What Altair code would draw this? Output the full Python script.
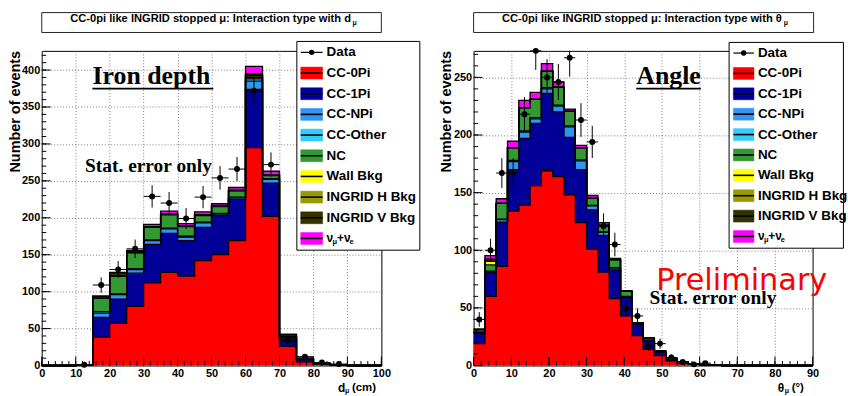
import math
import altair as alt
import numpy as np
import pandas as pd

# ---------------------------------------------------------------- data
COMPONENTS = ["CC-0Pi", "CC-1Pi", "CC-NPi", "CC-Other", "NC",
              "Wall Bkg", "INGRID H Bkg", "INGRID V Bkg", "nu_mu+nu_e"]
COLORS = ["#ff0000", "#000099", "#2f96f5", "#33ccff", "#339933",
          "#ffff00", "#999900", "#333300", "#ff00ff"]
LEGEND_LABELS = ["CC-0Pi", "CC-1Pi", "CC-NPi", "CC-Other", "NC",
                 "Wall Bkg", "INGRID H Bkg", "INGRID V Bkg"]

# ---- left: iron depth d_mu (cm), 5 cm bins
D_BIN_LOW = [0, 5, 10, 15, 20, 25, 30, 35, 40, 45, 50, 55, 60, 65, 70, 75, 80, 85, 90, 95]
D_BIN_W = 5
D_CC0PI = [0, 0, 0.5, 38.5, 57, 80, 112, 126, 121, 142, 150, 169, 295, 202, 26, 5, 1.5, 0.5, 0, 0]
D_CC1PI = [0, 0, 0.3, 26.5, 33, 45, 52, 53, 48, 45, 53, 56, 79, 45, 11, 3, 1, 0.5, 0, 0]
D_CCNPI = [0, 0, 0, 6, 6, 5, 5, 6, 5, 6, 2, 2, 11, 5, 1, 0.3, 0, 0, 0, 0]
D_CCOTHER = [0, 0, 0, 2, 1, 1, 1, 1, 1, 1, 1, 1, 3, 1, 0, 0, 0, 0, 0, 0]
D_NC = [0, 0, 0, 18, 24, 22, 17, 18, 13, 9, 9, 8, 2, 4, 0.5, 0.3, 0, 0, 0, 0]
D_WALL = [0, 0, 0, 0, 0, 0, 1, 1, 1, 1, 1, 1, 2, 1, 0, 0, 0, 0, 0, 0]
D_INGH = [0, 0, 0, 0, 0, 0, 0, 0, 0, 0, 0, 0, 1, 0, 0, 0, 0, 0, 0, 0]
D_INGV = [0, 0, 0.2, 3, 4, 2, 0, 0, 0, 0, 0, 0, 2, 0, 3.5, 1.5, 0.5, 0, 0, 0]
D_NU = [0, 0, 0, 0, 1, 1, 3, 4, 3, 4, 3, 4, 10, 5, 0, 0, 0, 0, 0, 0]
D_DATA = [0, 0, 1, 109, 130, 158, 229, 220, 199, 228, 254, 266, 372, 272, 34, 12, 4, 2, 0, 0]

# ---- right: angle theta_mu (deg), 3 deg bins
T_BIN_LOW = [0, 3, 6, 9, 12, 15, 18, 21, 24, 27, 30, 33, 36, 39, 42,
             45, 48, 51, 54, 57, 60, 63, 66, 69, 72, 75, 78, 81, 84, 87]
T_BIN_W = 3
T_CC0PI = [19, 60, 86, 134, 139, 156, 169, 164, 148, 124, 101, 81, 58, 43, 26,
           14, 8.5, 4, 2, 1, 0.5, 0.3, 0, 0, 0, 0, 0, 0, 0, 0]
T_CC1PI = [9.5, 20.7, 38.5, 36, 58, 54, 67, 56, 50, 46, 34, 32, 25, 16, 10,
           7, 3, 2, 1, 0.5, 0.3, 0.2, 0, 0, 0, 0, 0, 0, 0, 0]
T_CCNPI = [0, 1, 2, 7, 5.6, 4, 4, 5, 9, 7.5, 3.5, 2.5, 1.5, 0.5, 0,
           0, 0, 0, 0, 0, 0, 0, 0, 0, 0, 0, 0, 0, 0, 0]
T_CCOTHER = [0, 0, 0.5, 1, 1, 1, 1, 1, 1, 1, 0.5, 0.5, 0.5, 0.5, 0,
             0, 0, 0, 0, 0, 0, 0, 0, 0, 0, 0, 0, 0, 0, 0]
T_NC = [0, 5.7, 13.7, 11, 20.2, 16, 14.5, 15.5, 12.5, 10.5, 6, 5.5, 7, 4.5, 1,
        0, 0, 0, 0, 0, 0, 0, 0, 0, 0, 0, 0, 0, 0, 0]
T_WALL = [0, 3, 0, 0, 0, 0, 0, 0, 0, 0, 0, 0, 0, 0, 0,
          0, 0, 0, 0, 0, 0, 0, 0, 0, 0, 0, 0, 0, 0, 0]
T_INGH = [0, 1, 0, 0, 0, 0, 0, 0, 0, 0, 0, 0, 0, 0, 0,
          0, 0, 0, 0, 0, 0, 0, 0, 0, 0, 0, 0, 0, 0, 0]
T_INGV = [3, 1, 0, 0, 0, 0, 0, 0, 0, 0, 0, 0, 0, 0, 0,
          3, 1.5, 0.5, 0, 0, 0, 0, 0, 0, 0, 0, 0, 0, 0, 0]
T_NU = [0, 3, 4, 5.6, 6.3, 6, 6.5, 4.5, 2, 2, 2.5, 2.5, 1, 0.5, 0,
        0, 0, 0, 0, 0, 0, 0, 0, 0, 0, 0, 0, 0, 0, 0]
T_DATA = [40, 100, 167, 167, 218, 273, 250, 246, 267, 213, 194, 121, 105, 49, 43,
          17, 19, 7, 3, 1, 2, 0, 0, 0, 0, 0, 0, 0, 0, 0]

D_XTICKS = [0, 10, 20, 30, 40, 50, 60, 70, 80, 90, 100]
D_YTICKS = [0, 50, 100, 150, 200, 250, 300, 350, 400]
T_XTICKS = [0, 10, 20, 30, 40, 50, 60, 70, 80, 90]
T_YTICKS = [0, 50, 100, 150, 200, 250]

# ---------------------------------------------------------------- style
SANS = "Liberation Sans, Arial, sans-serif"
SERIF = "Liberation Serif, Times New Roman, serif"
W1, W2, H = 341.6, 341.0, 316.5
BASE = pd.DataFrame({"z": [0]})
LEG_FS = 13.5


def txt(s, x, y, size, font=SANS, weight="bold", align="left",
        baseline="middle", color="black", angle=None):
    kw = dict(text=s, align=align, baseline=baseline, font=font,
              fontSize=size, fontWeight=weight, color=color)
    if angle is not None:
        kw["angle"] = angle
    return alt.Chart(BASE).mark_text(**kw).encode(x=alt.value(x), y=alt.value(y))


def box(x0, x1, y0, y1, **kw):
    return alt.Chart(BASE).mark_rect(**kw).encode(
        x=alt.value(x0), x2=alt.value(x1), y=alt.value(y0), y2=alt.value(y1))


def hline(x0, x1, y, color="black", w=1.0):
    return alt.Chart(BASE).mark_rule(color=color, strokeWidth=w).encode(
        x=alt.value(x0), x2=alt.value(x1), y=alt.value(y))


def legend_layers(bx0, bx1, by0, by1, sx0, sx1, lx, row0, drow):
    L = [box(bx0, bx1, by0, by1, fill="white", stroke="black", strokeWidth=1)]
    y = row0
    L.append(hline(sx0, sx1, y, w=1.2))
    L.append(alt.Chart(BASE).mark_circle(size=30, color="black", opacity=1).encode(
        x=alt.value((sx0 + sx1) / 2), y=alt.value(y)))
    L.append(txt("Data", lx, y, LEG_FS))
    for i, (lab, col) in enumerate(zip(LEGEND_LABELS + ["nu"], COLORS)):
        y = row0 + drow * (i + 1)
        L.append(box(sx0, sx1, y - 6, y + 6, fill=col, stroke=col, strokeWidth=0.5))
        L.append(hline(sx0, sx1, y, w=1.6))
        if lab != "nu":
            L.append(txt(lab, lx, y, LEG_FS))
    y = row0 + drow * 9
    L.append(txt("ν", lx, y, 12))
    L.append(txt("μ", lx + 6, y + 4, 7.5))
    L.append(txt("+ν", lx + 10.5, y, 12))
    L.append(txt("e", lx + 23, y + 4, 7.5))
    return L


def panel(bin_low, bw, comps, data, W, xmax, ymax, xticks, yticks,
          xminor, yminor, deco):
    edges = list(bin_low) + [bin_low[-1] + bw]
    nb = len(bin_low)
    rows = []
    for k, name in enumerate(COMPONENTS):
        for i, e in enumerate(edges):
            j = min(i, nb - 1)
            lo = sum(comps[m][j] for m in range(k))
            rows.append(dict(comp=name, edge=e, lo=lo, hi=lo + comps[k][j]))
    stack = pd.DataFrame(rows)

    pts = pd.DataFrame([
        dict(xc=b + bw / 2, xlo=b, xhi=b + bw, val=v,
             elo=v - math.sqrt(v), ehi=v + math.sqrt(v))
        for b, v in zip(bin_low, data) if v > 0])

    XS = alt.Scale(domain=[0, xmax], nice=False, zero=False)
    YS = alt.Scale(domain=[0, ymax], nice=False, zero=False)
    AX = alt.Axis(values=xticks, grid=True, ticks=False, tickSize=0,
                  domain=False, labelPadding=2, labelFlush=False)
    AY = alt.Axis(values=yticks, grid=True, ticks=False, tickSize=0,
                  domain=False, labelPadding=2)

    def X(f):
        return alt.X(f, scale=XS, axis=AX, title=None)

    def Y(f, **kw):
        return alt.Y(f, scale=YS, axis=AY, title=None, **kw)

    area = alt.Chart(stack).mark_area(interpolate="step-after").encode(
        x=X("edge:Q"), y=Y("lo:Q", stack=None), y2="hi:Q",
        color=alt.Color("comp:N", scale=alt.Scale(domain=COMPONENTS, range=COLORS),
                        legend=None),
    )
    outline = alt.Chart(stack).mark_line(interpolate="step-after", color="black",
                                         strokeWidth=1.3).encode(
        x=X("edge:Q"), y=Y("hi:Q"), detail="comp:N",
    )

    def ticks_x(vals, ln):
        return alt.Chart(pd.DataFrame({"v": vals})).mark_rule(color="black", strokeWidth=1).encode(
            x=X("v:Q"), y=alt.value(H), y2=alt.value(H - ln))

    def ticks_y(vals, ln):
        return alt.Chart(pd.DataFrame({"v": vals})).mark_rule(color="black", strokeWidth=1).encode(
            y=Y("v:Q"), x=alt.value(0), x2=alt.value(ln))

    ex = alt.Chart(pts).mark_rule(color="black", strokeWidth=1).encode(
        x=X("xlo:Q"), x2="xhi:Q", y=Y("val:Q"))
    ey = alt.Chart(pts).mark_rule(color="black", strokeWidth=1, clip=True).encode(
        x=X("xc:Q"), y=Y("elo:Q"), y2="ehi:Q")
    dots = alt.Chart(pts).mark_circle(size=36, color="black", opacity=1).encode(
        x=X("xc:Q"), y=Y("val:Q"))

    layers = [area, outline,
              ticks_x(xticks, 9), ticks_x(xminor, 4.5),
              ticks_y(yticks, 9), ticks_y(yminor, 4.5),
              ex, ey, dots] + deco
    return alt.layer(*layers).properties(width=W, height=H)


# ---------------------------------------------------------------- left panel
D_COMPS = [D_CC0PI, D_CC1PI, D_CCNPI, D_CCOTHER, D_NC, D_WALL, D_INGH, D_INGV, D_NU]
left_deco = [
    box(-40.7, W1, -49.5, H + 30, opacity=0),
    box(0, W1, -38.5, -18.5, fill="white", stroke="#222", strokeWidth=1),
    txt("CC-0pi like INGRID stopped μ: Interaction type with d", 311, -32.5, 11.2,
        align="right"),
    txt("μ", 312.5, -28, 7),
    txt("Number of events", -26, 0, 14.5, align="right", angle=270),
    txt("d", 298, H + 22.5, 12),
    txt("μ", 305, H + 26, 7),
    txt("(cm)", 312, H + 22.5, 11.5),
    txt("Iron depth", 51, 33, 26, font=SERIF, baseline="alphabetic"),
    hline(51, 172.6, 38, w=1.6),
    txt("Stat. error only", 43.6, 115.5, 19.5, font=SERIF),
] + legend_layers(256.6, 380.3, -9.5, 200.5, 260.5, 282.5, 286.5, 1.5, 20.8)

left = panel(D_BIN_LOW, D_BIN_W, D_COMPS, D_DATA, W1, 100, 426,
             D_XTICKS, D_YTICKS, list(range(0, 101, 2)), list(range(0, 426, 10)),
             left_deco)

# ---------------------------------------------------------------- right panel
T_COMPS = [T_CC0PI, T_CC1PI, T_CCNPI, T_CCOTHER, T_NC, T_WALL, T_INGH, T_INGV, T_NU]
right_deco = [
    box(0, 373.3, -49.5, H + 30, opacity=0),
    box(0, W2 + 1, -38.5, -18.5, fill="white", stroke="#222", strokeWidth=1),
    txt("CC-0pi like INGRID stopped μ: Interaction type with θ", 310, -32.5, 11.2,
        align="right"),
    txt("μ", 312, -28, 7),
    txt("Number of events", -27, 0, 14.5, align="right", angle=270),
    txt("θ", 306, H + 22.5, 12),
    txt("μ", 313, H + 26, 7),
    txt("(°)", 320, H + 22.5, 11.5),
    txt("Angle", 163.6, 33, 26, font=SERIF, baseline="alphabetic"),
    hline(163.6, 228.6, 38, w=1.6),
    txt("Stat. error only", 177, 249, 19.5, font=SERIF),
    txt("Preliminary", 183.6, 240.5, 30.5, font="DejaVu Sans", weight="normal",
        baseline="alphabetic", color="#ff0000"),
] + legend_layers(257, 372, -8.5, 198.5, 261.3, 282, 286, 2.2, 20.5)

right = panel(T_BIN_LOW, T_BIN_W, T_COMPS, T_DATA, W2, 90, 273,
              T_XTICKS, T_YTICKS, list(range(0, 91, 2)), list(range(0, 273, 10)),
              right_deco)

chart = alt.hconcat(left, right, spacing=92.4, bounds="flush").properties(
    padding=0, background="white"
).configure_view(stroke="black", strokeWidth=1).configure_axis(
    labelFont=SANS, labelFontSize=11, labelFontWeight="bold", labelColor="black",
    gridColor="#808080", gridDash=[1, 2], gridWidth=1,
)

chart.save("out.html", embed_options={"renderer": "svg", "actions": False})
